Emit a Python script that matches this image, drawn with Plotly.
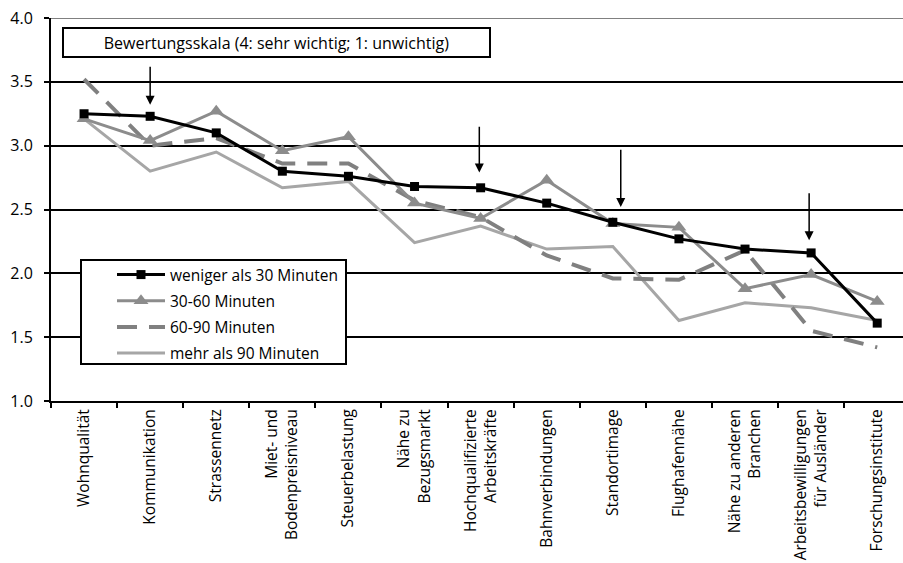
import plotly.graph_objects as go

# Location factors (x categories)
categories = [
    "Wohnqualität", "Kommunikation", "Strassennetz", "Miet- und<br>Bodenpreisniveau",
    "Steuerbelastung", "Nähe zu<br>Bezugsmarkt", "Hochqualifizierte<br>Arbeitskräfte",
    "Bahnverbindungen", "Standortimage", "Flughafennähe", "Nähe zu anderen<br>Branchen",
    "Arbeitsbewilligungen<br>für Ausländer", "Forschungsinstitute",
]

# Mean ratings per commuting-time group (4: sehr wichtig; 1: unwichtig)
under_30 = [3.25, 3.23, 3.10, 2.80, 2.76, 2.68, 2.67, 2.55, 2.40, 2.27, 2.19, 2.16, 1.61]
min_30_60 = [3.21, 3.04, 3.27, 2.96, 3.07, 2.55, 2.43, 2.73, 2.39, 2.36, 1.88, 1.99, 1.78]
min_60_90 = [3.52, 3.00, 3.06, 2.86, 2.86, 2.57, 2.44, 2.14, 1.96, 1.95, 2.18, 1.55, 1.42]
over_90 = [3.21, 2.80, 2.95, 2.67, 2.72, 2.24, 2.37, 2.19, 2.21, 1.63, 1.77, 1.73, 1.63]

# Arrow markers: (category index, tail value, head value)
arrows = [(1.0, 3.63, 3.32), (5.98, 3.16, 2.79), (8.12, 2.98, 2.52), (10.97, 2.64, 2.26)]

FONT = "Open Sans"

fig = go.Figure()

fig.add_trace(go.Scatter(
    x=categories, y=over_90, name="mehr als 90 Minuten", mode="lines",
    line=dict(color="#a6a6a6", width=3), legendrank=4, legendgroup="d",
))
fig.add_trace(go.Scatter(
    x=categories, y=min_60_90, name="60-90 Minuten", mode="lines",
    line=dict(color="#808080", width=4, dash="20px,12px"), legendrank=3, legendgroup="c",
))
fig.add_trace(go.Scatter(
    x=categories, y=min_30_60, name="30-60 Minuten", mode="lines+markers",
    line=dict(color="#8c8c8c", width=3),
    marker=dict(symbol="triangle-up", size=13, color="#8c8c8c"),
    legendrank=2, legendgroup="b",
))
fig.add_trace(go.Scatter(
    x=categories, y=under_30, name="weniger als 30 Minuten", mode="lines+markers",
    line=dict(color="#000000", width=3),
    marker=dict(symbol="square", size=9, color="#000000"),
    legendrank=1, legendgroup="a",
))

# Legend frame (white box covering the gridlines)
fig.add_shape(type="rect", xref="paper", yref="paper",
              x0=30 / 852, x1=295 / 852, y0=(401 - 364) / 383, y1=(401 - 260) / 383,
              line=dict(color="black", width=2), fillcolor="white", layer="above")

# Top border line of the plot area
fig.add_shape(type="line", xref="paper", yref="y", x0=0, x1=1, y0=4, y1=4,
              line=dict(color="#808080", width=2), layer="above")

# Scale note
fig.add_annotation(
    xref="paper", yref="paper", x=(276.5 - 51) / 852, y=(401 - 42.5) / 383,
    text="Bewertungsskala (4: sehr wichtig; 1: unwichtig)", showarrow=False,
    font=dict(family=FONT, size=16, color="black"),
    width=423, height=25, bordercolor="black", borderwidth=2, bgcolor="white",
    xanchor="center", yanchor="middle",
)

for xi, tail, head in arrows:
    fig.add_annotation(
        x=xi, y=head, ax=xi, ay=tail, xref="x", yref="y", axref="x", ayref="y",
        text="", showarrow=True, arrowhead=2, arrowsize=1.2, arrowwidth=1.5,
        arrowcolor="black",
    )

fig.update_layout(
    width=903, height=563, autosize=False,
    margin=dict(l=51, r=0, t=18, b=162),
    paper_bgcolor="white", plot_bgcolor="white",
    font=dict(family=FONT, size=16, color="black"),
    showlegend=True,
    legend=dict(
        x=(112 - 51) / 852, y=(401 - 258) / 383, xanchor="left", yanchor="top",
        bgcolor="rgba(0,0,0,0)", borderwidth=0, tracegroupgap=3, itemwidth=48,
        font=dict(family=FONT, size=15.5, color="black"),
        traceorder="grouped",
    ),
    xaxis=dict(
        type="category", range=[-0.5, 12.39], tickangle=-90,
        showgrid=False, showline=True, linecolor="black", linewidth=2,
        ticks="outside", tickson="boundaries", ticklen=5, tickcolor="black", tickwidth=2,
        tickfont=dict(family=FONT, size=15.5), fixedrange=True,
    ),
    yaxis=dict(
        range=[1, 4], dtick=0.5, tickformat=".1f",
        showgrid=True, gridcolor="black", gridwidth=1.5,
        showline=True, linecolor="black", linewidth=2,
        ticks="outside", ticklen=5, tickcolor="black", tickwidth=2,
        ticklabelstandoff=8,
        tickfont=dict(family=FONT, size=16), zeroline=False,
    ),
)

fig.write_html("out.html")
